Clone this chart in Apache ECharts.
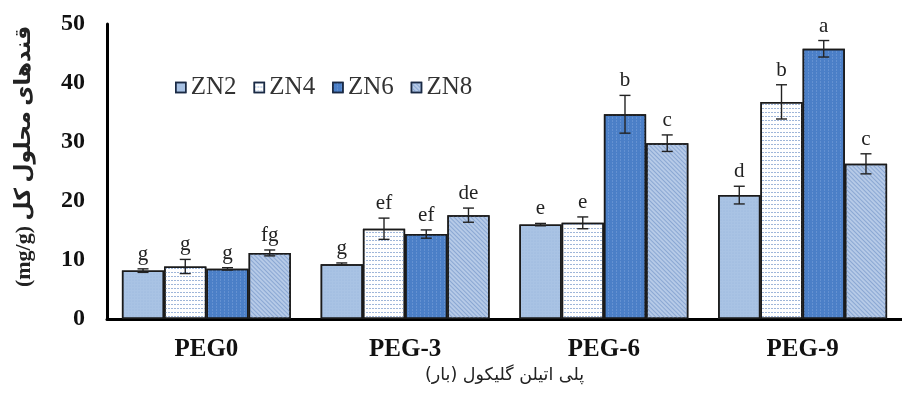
<!DOCTYPE html>
<html><head><meta charset="utf-8">
<script src="https://cdn.jsdelivr.net/npm/echarts@6/dist/echarts.min.js"></script>
<style>html,body{margin:0;padding:0;background:#fff}#c{width:902px;height:405px}</style>
</head><body><div id="c"></div>
<script>
const categories = ['PEG0', 'PEG-3', 'PEG-6', 'PEG-9'];
const seriesNames = ['ZN2', 'ZN4', 'ZN6', 'ZN8'];
const zn2 = [8.2, 9.3, 16.0, 21.0];
const zn4 = [8.9, 15.3, 16.3, 36.8];
const zn6 = [8.5, 14.4, 34.7, 45.8];
const zn8 = [11.2, 17.6, 29.8, 26.3];
const zn2Err = [0.3, 0.2, 0.2, 1.5];
const zn4Err = [1.2, 1.8, 1.0, 2.9];
const zn6Err = [0.2, 0.7, 3.2, 1.4];
const zn8Err = [0.5, 1.2, 1.4, 1.7];
const zn2Sig = ['g', 'g', 'e', 'd'];
const zn4Sig = ['g', 'ef', 'e', 'b'];
const zn6Sig = ['g', 'ef', 'b', 'a'];
const zn8Sig = ['fg', 'de', 'c', 'c'];
const yTicks = [0, 10, 20, 30, 40, 50];
const xTitle = '\u202Bپلی اتیلن گلیکول (بار)\u202C';
const yTitle = '\u202Bقندهای محلول کل (mg/g)\u202C';

const values = [zn2, zn4, zn6, zn8];
const errs = [zn2Err, zn4Err, zn6Err, zn8Err];
const sigs = [zn2Sig, zn4Sig, zn6Sig, zn8Sig];
const CAT_GAP = 0.15;
const serif = "'Liberation Serif','Times New Roman',serif";
const styles = [
  {color:'#a9c3e4', decal:{symbol:'circle', symbolSize:0.6, dashArrayX:[2,1], dashArrayY:[2,1], color:'rgba(140,170,215,0.5)'}},
  {color:'#ffffff', decal:{symbol:'rect', symbolSize:1, dashArrayX:[[2,1]], dashArrayY:[1,3], color:'#9fb6d9'}},
  {color:'#4b7fc7', decal:{symbol:'rect', symbolSize:1, dashArrayX:[1,3], dashArrayY:[2,1], color:'rgba(150,180,230,0.35)'}},
  {color:'#b6cae7', decal:{symbol:'rect', symbolSize:1, dashArrayX:[1,0], dashArrayY:[1,2], rotation:Math.PI/4, color:'#8aa7d3'}}
];

const series = [];
seriesNames.forEach((name, si) => {
  series.push({
    name: name, type: 'bar', data: values[si],
    barGap: '0%', barCategoryGap: (CAT_GAP*100)+'%',
    itemStyle: {color: styles[si].color, borderColor:'#1a1a1a', borderWidth:1.5, decal: styles[si].decal},
    emphasis: {disabled: true}
  });
});
seriesNames.forEach((name, si) => {
  series.push({
    type: 'custom', name: name + '_err', silent: true, z: 5,
    data: values[si].map((v, i) => [i, v, errs[si][i]]),
    renderItem: function (params, api) {
      const i = api.value(0), v = api.value(1), e = api.value(2);
      const band = api.size([1, 0])[0];
      const bw = band * (1 - CAT_GAP) / 4;
      const cx = api.coord([i, v])[0] + (si - 1.5) * bw;
      const yT = api.coord([i, v + e])[1];
      const yB = api.coord([i, v - e])[1];
      const cap = 5.5;
      const ls = {stroke:'#222', lineWidth:1.4};
      return {type:'group', children:[
        {type:'line', shape:{x1:cx, y1:yT, x2:cx, y2:yB}, style:ls},
        {type:'line', shape:{x1:cx-cap, y1:yT, x2:cx+cap, y2:yT}, style:ls},
        {type:'line', shape:{x1:cx-cap, y1:yB, x2:cx+cap, y2:yB}, style:ls},
        {type:'text', x:cx, y:yT-4, style:{text:sigs[si][params.dataIndex], fill:'#222', font:'21px '+serif, textAlign:'center', textVerticalAlign:'bottom'}}
      ]};
    }
  });
});

const chart = echarts.init(document.getElementById('c'), null, {renderer:'canvas'});
chart.setOption({
  animation: false,
  backgroundColor: '#fff',
  grid: {left: 107, right: -6, top: 24, bottom: 86},
  legend: {
    data: seriesNames, left: 170, top: 70, itemWidth: 10, itemHeight: 10, itemGap: 17,
    icon: 'rect',
    textStyle: {fontFamily: serif, fontSize: 25, color: '#333', padding:[3,0,0,0]},
    itemStyle: {borderColor: '#1a2a44', borderWidth: 1.5}
  },
  xAxis: {
    type: 'category', data: categories,
    axisLine: {lineStyle: {color: '#000', width: 3}},
    axisTick: {show: false},
    axisLabel: {fontFamily: serif, fontWeight: 'bold', fontSize: 25, color: '#111', margin: 18},
    name: xTitle, nameLocation: 'middle', nameGap: 44,
    nameTextStyle: {fontFamily: "'DejaVu Sans',sans-serif", fontSize: 17.5, color: '#222'}
  },
  yAxis: {
    type: 'value', min: yTicks[0], max: yTicks[yTicks.length-1], interval: 10,
    axisLine: {show: true, lineStyle: {color: '#000', width: 3}},
    axisTick: {show: false},
    splitLine: {show: false},
    axisLabel: {fontFamily: serif, fontWeight: 'bold', fontSize: 24, color: '#111', margin: 22},
    name: yTitle, nameLocation: 'middle', nameGap: 72, nameRotate: 90,
    nameTextStyle: {fontFamily: "'Liberation Serif','DejaVu Sans',serif", fontWeight: 'bold', fontSize: 22, color: '#222', padding:[0,0,0,30]}
  },
  series: series
});
</script></body></html>
